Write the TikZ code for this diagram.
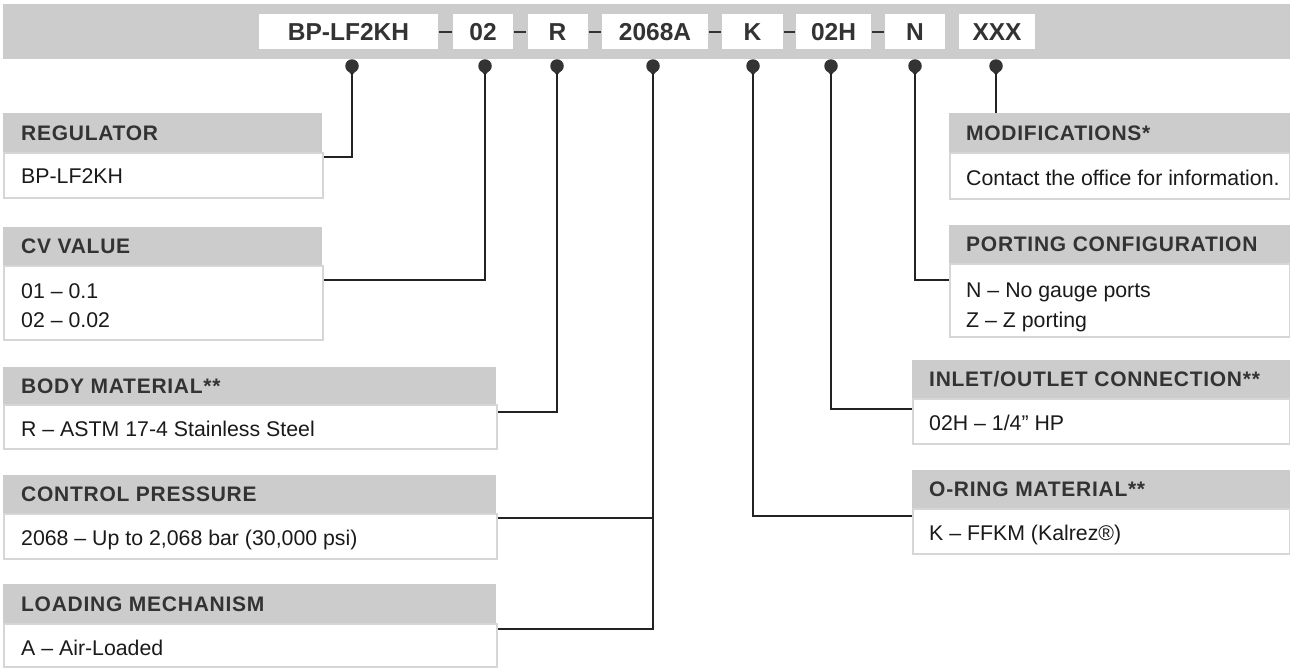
\documentclass[tikz,border=0pt]{standalone}
\usepackage{fontspec}
\setmainfont{Liberation Sans}
\newfontfamily\hdfont[LetterSpace=3.5]{Liberation Sans}
\usetikzlibrary{calc}
\definecolor{barcol}{HTML}{CCCCCC}
\definecolor{hdtxt}{HTML}{333333}
\definecolor{bdtxt}{HTML}{1A1A1A}
\definecolor{bord}{HTML}{D6D6D6}
\definecolor{lncol}{HTML}{222222}
\tikzset{
  hdrbox/.style={fill=barcol, draw=none, anchor=north west, inner sep=0pt},
  bodybox/.style={fill=white, draw=bord, line width=1.5pt, anchor=north west, inner sep=0pt},
  hdtext/.style={anchor=west, inner sep=0pt, text height=15pt, text depth=0pt, text=hdtxt, font=\hdfont\fontsize{21}{24}\selectfont\bfseries},
  bdtext/.style={anchor=base west, inner sep=0pt, text=bdtxt, font=\fontsize{21.3}{25}\selectfont},
  codebox/.style={fill=white, draw=none, minimum height=35pt, inner sep=0pt, text height=17.5pt, text depth=0pt, text=hdtxt, font=\fontsize{24.5}{28}\selectfont\bfseries},
  pinnode/.style={circle, fill=hdtxt, inner sep=0pt, minimum size=13.5pt},
  conn/.style={draw=lncol, line width=1.5pt},
  codedash/.style={draw=hdtxt, line width=2pt}
}
\begin{document}
\begin{tikzpicture}[x=1pt,y=-1pt]
\useasboundingbox (0,0) rectangle (1290,667);
% top bar
\node[fill=barcol, anchor=north west, inner sep=0pt, minimum width=1287pt, minimum height=55pt] (bar) at (3,4) {};
% code boxes
\node[codebox, minimum width=179pt] (cBP) at (348.5,31.5) {BP-LF2KH};
\node[codebox, minimum width=60pt] (c02) at (483,31.5) {02};
\node[codebox, minimum width=60pt] (cR) at (557.5,31.5) {R};
\node[codebox, minimum width=106pt] (c2068) at (655,31.5) {2068A};
\node[codebox, minimum width=61pt] (cK) at (752.5,31.5) {K};
\node[codebox, minimum width=75pt] (c02H) at (833.5,31.5) {02H};
\node[codebox, minimum width=60pt] (cN) at (915,31.5) {N};
\node[codebox, minimum width=76pt] (cX) at (997,31.5) {XXX};
% dashes between code boxes
\draw[codedash] ([xshift=1pt]cBP.east) -- ([xshift=-1pt]c02.west);
\draw[codedash] ([xshift=1pt]c02.east) -- ([xshift=-1pt]cR.west);
\draw[codedash] ([xshift=1pt]cR.east) -- ([xshift=-1pt]c2068.west);
\draw[codedash] ([xshift=1pt]c2068.east) -- ([xshift=-1pt]cK.west);
\draw[codedash] ([xshift=1pt]cK.east) -- ([xshift=-1pt]c02H.west);
\draw[codedash] ([xshift=1pt]c02H.east) -- ([xshift=-1pt]cN.west);
% pins
\node[pinnode] (pBP) at (352,66) {};
\node[pinnode] (p02) at (485,66) {};
\node[pinnode] (pR) at (557,66) {};
\node[pinnode] (p2068) at (653,66) {};
\node[pinnode] (pK) at (753,66) {};
\node[pinnode] (p02H) at (831,66) {};
\node[pinnode] (pN) at (915,66) {};
\node[pinnode] (pX) at (996,66) {};
\foreach \p in {pBP,p02,pR,p2068,pK,p02H,pN,pX}
  \fill[hdtxt] ([xshift=-4.5pt,yshift=3pt]\p.south) -- ([xshift=4.5pt,yshift=3pt]\p.south) -- ([yshift=-2.5pt]\p.south) -- cycle;

% ---------- left column ----------
\node[bodybox, minimum width=319pt, minimum height=45pt] (regB) at (3,152) {};
\node[hdrbox, minimum width=319pt, minimum height=39pt] (regH) at (3,113) {};
\node[hdtext] (regHt) at ([xshift=18pt]regH.west) {REGULATOR};
\node[bdtext] (regBt) at ([xshift=18pt,yshift=-31pt]regB.north west) {BP-LF2KH};

\node[bodybox, minimum width=319pt, minimum height=74pt] (cvB) at (3,265) {};
\node[hdrbox, minimum width=319pt, minimum height=38pt] (cvH) at (3,227) {};
\node[hdtext] (cvHt) at ([xshift=18pt]cvH.west) {CV VALUE};
\node[bdtext] (cvBt1) at ([xshift=18pt,yshift=-33pt]cvB.north west) {01 – 0.1};
\node[bdtext] (cvBt2) at ([xshift=18pt,yshift=-62pt]cvB.north west) {02 – 0.02};

\node[bodybox, minimum width=493pt, minimum height=44pt] (bmB) at (3,404) {};
\node[hdrbox, minimum width=493pt, minimum height=37pt] (bmH) at (3,367) {};
\node[hdtext] (bmHt) at ([xshift=18pt]bmH.west) {BODY MATERIAL**};
\node[bdtext] (bmBt) at ([xshift=18pt,yshift=-32pt]bmB.north west) {R – ASTM 17-4 Stainless Steel};

\node[bodybox, minimum width=493pt, minimum height=45pt] (cpB) at (3,513) {};
\node[hdrbox, minimum width=493pt, minimum height=38pt] (cpH) at (3,475) {};
\node[hdtext] (cpHt) at ([xshift=18pt]cpH.west) {CONTROL PRESSURE};
\node[bdtext] (cpBt) at ([xshift=18pt,yshift=-32pt]cpB.north west) {2068 – Up to 2,068 bar (30,000 psi)};

\node[bodybox, minimum width=493pt, minimum height=43pt] (lmB) at (3,623) {};
\node[hdrbox, minimum width=493pt, minimum height=39pt] (lmH) at (3,584) {};
\node[hdtext] (lmHt) at ([xshift=18pt]lmH.west) {LOADING MECHANISM};
\node[bdtext] (lmBt) at ([xshift=18pt,yshift=-32pt]lmB.north west) {A – Air-Loaded};

% ---------- right column ----------
\node[bodybox, minimum width=340pt, minimum height=46pt] (moB) at (949,152) {};
\node[hdrbox, minimum width=341pt, minimum height=39pt] (moH) at (949,113) {};
\node[hdtext] (moHt) at ([xshift=17pt]moH.west) {MODIFICATIONS*};
\node[bdtext] (moBt) at ([xshift=17pt,yshift=-33pt]moB.north west) {Contact the office for information.};

\node[bodybox, minimum width=340pt, minimum height=73pt] (pcB) at (949,263) {};
\node[hdrbox, minimum width=341pt, minimum height=38pt] (pcH) at (949,225) {};
\node[hdtext] (pcHt) at ([xshift=17pt]pcH.west) {PORTING CONFIGURATION};
\node[bdtext] (pcBt1) at ([xshift=17pt,yshift=-34pt]pcB.north west) {N – No gauge ports};
\node[bdtext] (pcBt2) at ([xshift=17pt,yshift=-64pt]pcB.north west) {Z – Z porting};

\node[bodybox, minimum width=377pt, minimum height=45pt] (ioB) at (912,398) {};
\node[hdrbox, minimum width=378pt, minimum height=38pt] (ioH) at (912,360) {};
\node[hdtext] (ioHt) at ([xshift=17pt]ioH.west) {INLET/OUTLET CONNECTION**};
\node[bdtext] (ioBt) at ([xshift=17pt,yshift=-32pt]ioB.north west) {02H – 1/4” HP};

\node[bodybox, minimum width=377pt, minimum height=45pt] (orB) at (912,508) {};
\node[hdrbox, minimum width=378pt, minimum height=38pt] (orH) at (912,470) {};
\node[hdtext] (orHt) at ([xshift=17pt]orH.west) {O-RING MATERIAL**};
\node[bdtext] (orBt) at ([xshift=17pt,yshift=-32pt]orB.north west) {K – FFKM (Kalrez®)};

% ---------- connectors ----------
\draw[conn] (pBP.south) |- ([yshift=-5pt]regB.north east);
\draw[conn] (p02.south) |- ([yshift=-15pt]cvB.north east);
\draw[conn] (pR.south) |- ([yshift=-8pt]bmB.north east);
\draw[conn] (p2068.south) |- ([yshift=-5pt]cpB.north east);
\draw[conn] (p2068.south) |- ([yshift=-6pt]lmB.north east);
\draw[conn] (pK.south) |- ([yshift=-8pt]orB.north west);
\draw[conn] (p02H.south) |- ([yshift=-11pt]ioB.north west);
\draw[conn] (pN.south) |- ([yshift=-17pt]pcB.north west);
\draw[conn] (pX.south) -- (pX |- moH.north);
\end{tikzpicture}
\end{document}
